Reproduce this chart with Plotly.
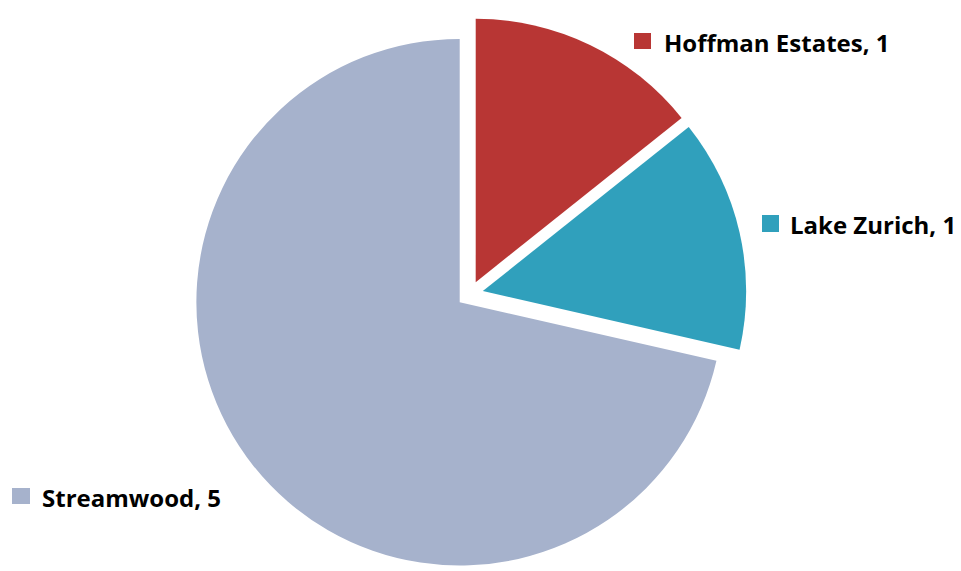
import plotly.graph_objects as go

# Data
categories = ["Hoffman Estates", "Lake Zurich", "Streamwood"]
values = [1, 1, 5]
colors = ["#B83634", "#30A0BC", "#A6B2CC"]

# the page body adds an 8px offset, so the figure is 8px smaller and
# all pixel positions below are given in figure pixels (screen - 8)
W, H = 953, 563
OFF = 8

# pie centre (screen px) and pull
cx, cy, pull = 470 - OFF, 294 - OFF, 0.05
half = min(H - cy, cy) - 0.5

fig = go.Figure()
fig.add_trace(go.Pie(
    labels=categories,
    values=values,
    sort=False,
    direction="clockwise",
    rotation=0,
    pull=[pull] * len(values),
    marker=dict(colors=colors, line=dict(width=0)),
    textinfo="none",
    hoverinfo="label+value",
    showlegend=False,
    domain=dict(x=[(cx - half) / W, (cx + half) / W],
                y=[max(0, 1 - (cy + half) / H), min(1, 1 - (cy - half) / H)]),
))

# label positions (screen pixels): square box and text start / centre
label_pos = [
    dict(sq=(634, 33, 651, 49), tx=(665, 43)),
    dict(sq=(762, 215, 779, 232), tx=(791, 224)),
    dict(sq=(12, 488, 30, 504), tx=(43, 497)),
]

shapes = []
annotations = []
for cat, val, col, pos in zip(categories, values, colors, label_pos):
    x0, y0, x1, y1 = [v - OFF for v in pos["sq"]]
    shapes.append(dict(type="rect", xref="paper", yref="paper",
                       x0=x0 / W, x1=x1 / W, y0=1 - y1 / H, y1=1 - y0 / H,
                       fillcolor=col, line=dict(width=0)))
    tx, ty = pos["tx"]
    tx = tx - OFF - 3
    ty = ty - OFF
    annotations.append(dict(text=f"<b>{cat}, {val}</b>", xref="paper", yref="paper",
                            x=tx / W, y=1 - ty / H, xanchor="left", yanchor="middle",
                            showarrow=False,
                            font=dict(family="Open Sans", size=24, color="#000000")))

fig.update_layout(
    width=W, height=H,
    margin=dict(l=0, r=0, t=0, b=0),
    paper_bgcolor="white",
    plot_bgcolor="white",
    shapes=shapes,
    annotations=annotations,
)

fig.write_html("out.html")
